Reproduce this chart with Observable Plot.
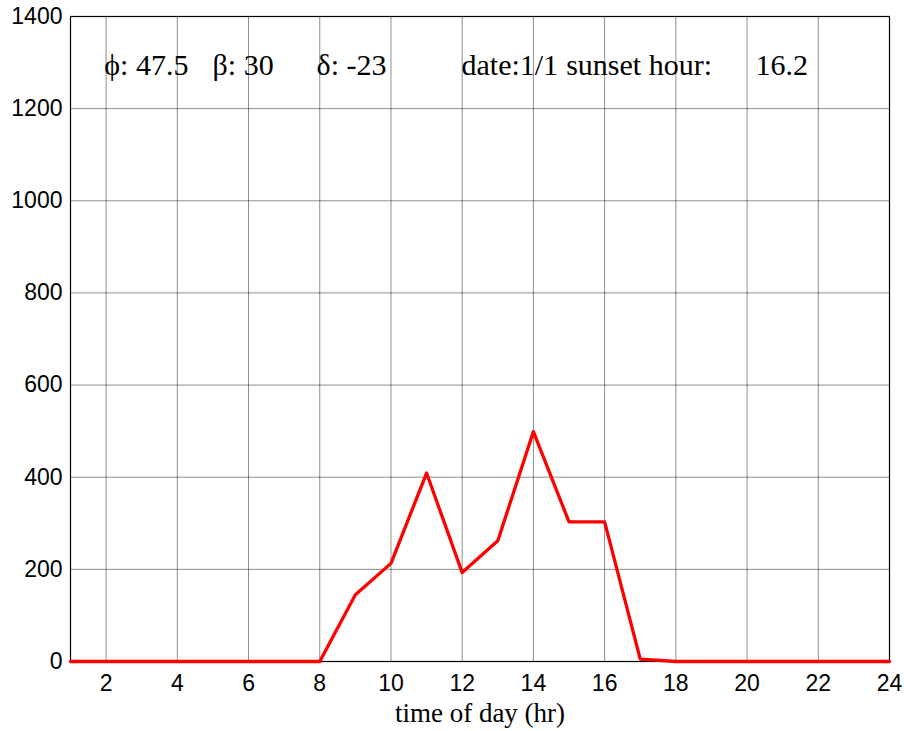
<!DOCTYPE html>
<html>
<head>
<meta charset="utf-8">
<script src="https://cdn.jsdelivr.net/npm/d3@7"></script>
<script src="https://cdn.jsdelivr.net/npm/@observablehq/plot@0.6"></script>
<style>
  html, body { margin: 0; padding: 0; background: #fff; }
</style>
</head>
<body>
<div id="chart"></div>
<script>
// Hour of day
const hours = [1,2,3,4,5,6,7,8,9,10,11,12,13,14,15,16,17,18,19,20,21,22,23,24];
// Irradiance values
const values = [0,0,0,0,0,0,0,0,145,213,409,193,262,499,303,303,5,0,0,0,0,0,0,0];
const xTicks = [2,4,6,8,10,12,14,16,18,20,22,24];
const yTicks = [0,200,400,600,800,1000,1200,1400];
const xLabel = "time of day (hr)";
// Annotation segments and their hour anchors
const noteTexts = ["ϕ: 47.5", "β: 30", "δ: -23", "date:1/1", "sunset hour:", "16.2"];
const noteHours = [1.95, 4.99, 7.91, 11.98, 14.92, 20.24];

const data = hours.map((h, i) => ({hour: h, value: values[i]}));
const notes = noteTexts.map((t, i) => ({text: t, hour: noteHours[i]}));

const chart = Plot.plot({
  width: 904,
  height: 731,
  marginLeft: 70,
  marginRight: 15,
  marginTop: 16,
  marginBottom: 70,
  style: {fontFamily: "'Liberation Sans', Arial, sans-serif", fontSize: "23px", color: "#000", background: "#fff"},
  x: {domain: [1, 24], label: null},
  y: {domain: [0, 1400], label: null},
  marks: [
    Plot.gridX(xTicks, {stroke: "#000", strokeOpacity: 0.45, strokeWidth: 1}),
    Plot.gridY(yTicks, {stroke: "#000", strokeOpacity: 0.45, strokeWidth: 1}),
    Plot.axisX(xTicks, {tickSize: 0, tickPadding: 13, label: null, fontSize: 23, tickFormat: "d"}),
    Plot.axisY(yTicks, {tickSize: 0, tickPadding: 8, label: null, fontSize: 23, tickFormat: "d"}),
    Plot.frame({stroke: "#000", strokeWidth: 1.2}),
    Plot.lineY(data, {x: "hour", y: "value", stroke: "#ff0000", strokeWidth: 3.3}),
    Plot.text(notes, {x: "hour", text: "text", frameAnchor: "top", dy: 37, textAnchor: "start",
      fontFamily: "'Liberation Serif', 'Times New Roman', serif", fontSize: 30, fill: "#000"}),
    Plot.text([xLabel], {frameAnchor: "bottom", dy: 60,
      fontFamily: "'Liberation Serif', 'Times New Roman', serif", fontSize: 27, fill: "#000"})
  ]
});
document.getElementById("chart").appendChild(chart);
</script>
</body>
</html>
